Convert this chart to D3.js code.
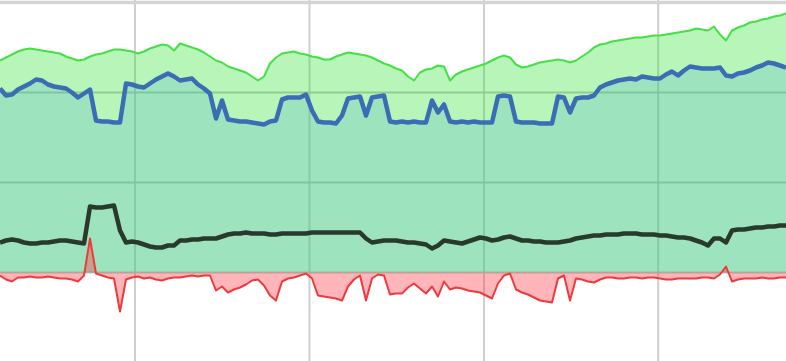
<!DOCTYPE html>
<html>
<head>
<meta charset="utf-8">
<script src="https://cdn.jsdelivr.net/npm/d3@7"></script>
<style>
  html, body { margin: 0; padding: 0; background: #ffffff; overflow: hidden; }
  svg { display: block; }
</style>
</head>
<body>
<svg id="chart" width="786" height="361"></svg>
<script>
// sample index (equal time steps)
const sampleCount = 132;
// vertical grid positions (in sample-index units)
const gridX = [22.5, 51.58, 80.67, 109.7];
// horizontal grid values
const gridY = [0, 90, 180, 270];

const greenSeries = [
  212,215,218,221,223,224,223,222,221,220,219,216,214,212,213,216,218,219,221,223,
  223,222,221,219,221,224,226,228,227,222,229,227,225,223,220,216,212,210,206,204,
  202,200,196,192,196,209,215,219,220,221,219,218,216,215,213,213,216,218,220,219,
  218,217,215,212,209,207,204,202,196,192,200,203,204,207,206,192,198,201,203,205,
  207,209,212,215,217,215,208,205,206,208,210,211,212,213,212,210,212,216,220,225,
  228,229,231,232,233,234,235,235,236,237,237,238,239,240,241,242,244,243,242,246,
  238,232,242,245,247,250,251,253,254,256,257,259
];

const blueSeries = [
  184,177,178,183,186,189,193,192,188,186,185,184,180,175,179,183,152,151,151,150,
  150,189,188,186,185,189,193,196,199,196,192,193,194,188,184,179,154,172,153,152,
  151,151,150,149,148,151,152,173,175,175,175,178,162,151,150,150,149,157,174,175,
  176,157,175,176,177,151,150,151,150,151,150,150,172,160,168,151,150,151,150,151,
  150,150,150,176,177,176,151,150,150,150,149,149,149,176,175,160,174,175,175,177,
  185,188,190,192,193,194,193,196,195,194,194,198,201,197,202,206,205,204,204,204,
  205,197,196,199,200,202,205,207,210,209,207,205
];

const blackSeries = [
  30,32,33,32,30,29,29,30,30,31,32,32,31,30,29,66,65,65,66,67,
  42,30,31,30,28,26,25,25,27,27,32,32,33,33,34,34,34,36,38,39,
  39,40,39,39,39,38,38,39,39,39,39,39,40,40,40,40,40,40,40,40,
  40,34,30,31,32,32,32,31,30,30,29,28,24,27,32,31,30,29,31,33,
  35,34,32,33,35,36,34,32,32,31,31,30,30,30,31,32,34,35,36,37,
  37,38,38,38,39,39,39,38,38,38,37,37,36,35,35,34,32,30,27,34,
  34,30,42,43,43,44,45,45,46,46,47,47
];

const redSeries = [
  -3,-7,-9,-5,-5,-4,-5,-5,-4,-5,-6,-6,-7,-9,-3,34,-1,-3,-5,-6,
  -39,-7,-5,-4,-6,-5,-7,-8,-6,-5,-5,-4,-3,-4,-3,-3,-18,-14,-20,-17,
  -15,-12,-8,-7,-13,-23,-28,-9,-6,-5,-3,-1,-6,-23,-24,-25,-26,-28,-14,-7,
  -3,-28,-6,-2,-3,-22,-21,-21,-15,-11,-16,-21,-14,-24,-9,-17,-15,-16,-18,-19,
  -20,-23,-26,-11,-3,-1,-17,-20,-22,-25,-28,-29,-30,-6,-3,-28,-6,-7,-9,-10,
  -7,-5,-5,-6,-6,-5,-5,-6,-5,-5,-6,-7,-7,-6,-6,-6,-6,-5,-5,-6,
  -2,6,-9,-7,-6,-6,-6,-5,-6,-6,-5,-5
];

const W = 786, H = 361;
const svg = d3.select("#chart");

const x = d3.scaleLinear().domain([0, sampleCount - 1]).range([0, W]);
const y = d3.scaleLinear().domain([-90, 270]).range([362.5, 2.5]);

// grid
const grid = svg.append("g");
grid.selectAll("line.v").data(gridX).join("line")
  .attr("x1", d => x(d)).attr("x2", d => x(d))
  .attr("y1", 0).attr("y2", H)
  .attr("stroke", "#cfcfcf").attr("stroke-width", 2);
grid.selectAll("line.h").data(gridY).join("line")
  .attr("x1", 0).attr("x2", W)
  .attr("y1", d => y(d)).attr("y2", d => y(d))
  .attr("stroke", d => d === 270 ? "#d4d4d4" : "#c4c4c4")
  .attr("stroke-width", d => d === 270 ? 3.5 : 2);

const area = (arr) => d3.area()
  .x((d, i) => x(i))
  .y0(y(0))
  .y1(d => y(d))(arr);
const line = (arr) => d3.line()
  .x((d, i) => x(i))
  .y(d => y(d))(arr);

// areas
svg.append("path").attr("d", area(greenSeries))
  .attr("fill", "rgb(40,225,40)").attr("fill-opacity", 0.33);
svg.append("path").attr("d", area(blueSeries))
  .attr("fill", "rgb(70,175,210)").attr("fill-opacity", 0.24);
svg.append("path").attr("d", area(redSeries))
  .attr("fill", "rgb(255,50,60)").attr("fill-opacity", 0.36);

// lines
svg.append("path").attr("d", line(greenSeries))
  .attr("fill", "none").attr("stroke", "#45e045").attr("stroke-width", 2)
  .attr("stroke-linejoin", "round");
svg.append("path").attr("d", line(blueSeries))
  .attr("fill", "none").attr("stroke", "#3a6db3").attr("stroke-width", 4.5)
  .attr("stroke-linejoin", "round");
svg.append("path").attr("d", line(blackSeries))
  .attr("fill", "none").attr("stroke", "#29392c").attr("stroke-width", 4.5)
  .attr("stroke-linejoin", "round");
svg.append("path").attr("d", line(redSeries))
  .attr("fill", "none").attr("stroke", "#ee3a3a").attr("stroke-width", 2)
  .attr("stroke-linejoin", "round");
</script>
</body>
</html>
